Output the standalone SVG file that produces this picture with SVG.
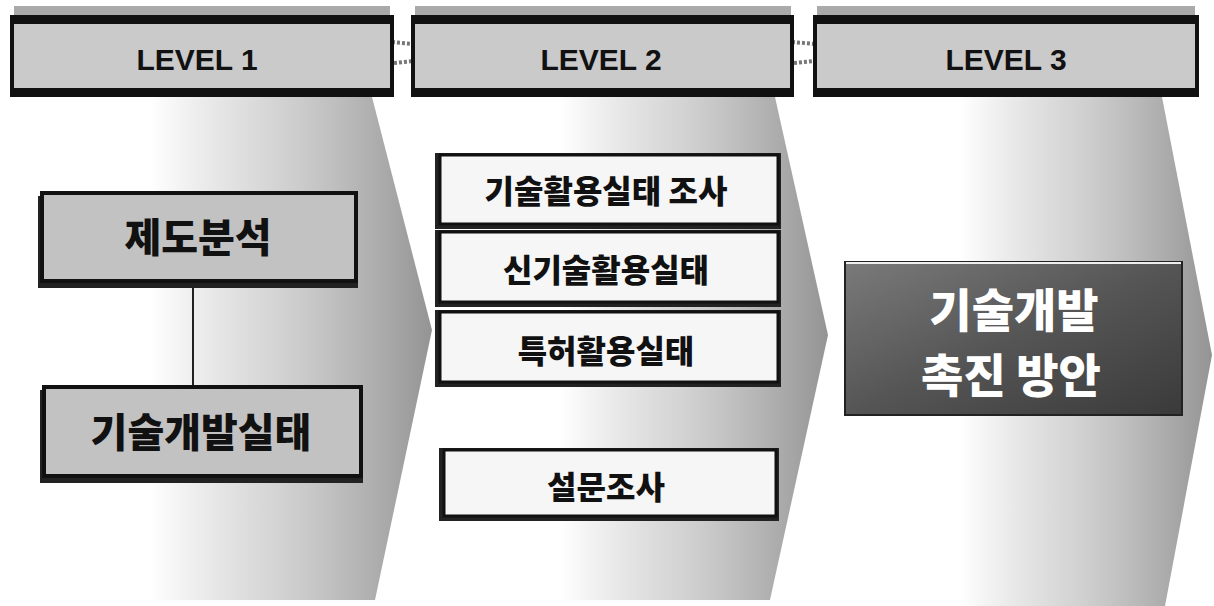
<svg xmlns="http://www.w3.org/2000/svg" width="1214" height="606" viewBox="0 0 1214 606">
<style>
.hdr{fill:#cacaca;stroke:#111;stroke-width:4}
.hbar{fill:#111}
.lv{font-family:"Liberation Sans",Arial,sans-serif;font-weight:bold;font-size:30px;fill:#111;text-anchor:middle}
.ko{font-family:"Noto Sans CJK KR","Noto Sans",sans-serif;font-weight:900;fill:#111;text-anchor:middle}
.n1{fill:#c2c2c2;stroke:#111;stroke-width:4}
.n2{fill:#f6f6f6;stroke:#111;stroke-width:3}
.sh{fill:#222}
.link{stroke:#777;stroke-width:4;stroke-dasharray:3 2}
</style>
<defs>
<linearGradient id="fade" x1="0" y1="0" x2="1" y2="0">
<stop offset="0" stop-color="#9a9a9a" stop-opacity="0"/>
<stop offset="0.45" stop-color="#a8a8a8" stop-opacity="0.5"/>
<stop offset="1" stop-color="#8e8e8e" stop-opacity="0.95"/>
</linearGradient>
<linearGradient id="dark" x1="0" y1="0" x2="1" y2="1">
<stop offset="0" stop-color="#7a7a7a"/>
<stop offset="0.5" stop-color="#555"/>
<stop offset="1" stop-color="#3a3a3a"/>
</linearGradient>
</defs>
<rect width="1214" height="606" fill="#fff"/>
<g id="backgrounds">
<path d="M150 97 L372 97 L432 330 L375 600 L150 600 Z" fill="url(#fade)"/>
<path d="M560 97 L775 97 L828 335 L770 600 L560 600 Z" fill="url(#fade)"/>
<path d="M960 97 L1162 97 L1212 355 L1165 606 L960 606 Z" fill="url(#fade)"/>
</g>
<g id="connectors">
<line class="link" x1="392" y1="42" x2="413" y2="44"/>
<line class="link" x1="394" y1="63" x2="413" y2="61"/>
<line class="link" x1="792" y1="42" x2="815" y2="44"/>
<line class="link" x1="794" y1="63" x2="815" y2="61"/>
<line x1="193" y1="285" x2="193" y2="387" stroke="#222" stroke-width="2"/>
</g>
<g id="level1">
<rect x="14" y="6" width="376" height="10" fill="#aaa"/>
<rect class="hdr" x="12" y="17" width="380" height="78"/>
<rect class="hbar" x="12" y="15" width="380" height="9"/>
<rect class="hbar" x="12" y="88" width="380" height="9"/>
<text class="lv" x="197" y="70">LEVEL 1</text>
</g>
<g id="level2">
<rect x="415" y="6" width="376" height="10" fill="#aaa"/>
<rect class="hdr" x="413" y="17" width="379" height="78"/>
<rect class="hbar" x="413" y="15" width="379" height="9"/>
<rect class="hbar" x="413" y="88" width="379" height="9"/>
<text class="lv" x="601" y="70">LEVEL 2</text>
</g>
<g id="level3">
<rect x="817" y="6" width="378" height="10" fill="#aaa"/>
<rect class="hdr" x="815" y="17" width="382" height="78"/>
<rect class="hbar" x="815" y="15" width="382" height="9"/>
<rect class="hbar" x="815" y="88" width="382" height="9"/>
<text class="lv" x="1006" y="70">LEVEL 3</text>
</g>
<g id="node-jedo">
<rect class="sh" x="38" y="196" width="320" height="92"/>
<rect class="n1" x="42" y="193" width="314" height="88"/>
<text class="ko" x="198" y="252" font-size="40">제도분석</text>
</g>
<g id="node-gisulgaebal">
<rect class="sh" x="40" y="390" width="323" height="93"/>
<rect class="n1" x="44" y="387" width="317" height="89"/>
<text class="ko" x="201" y="447" font-size="40">기술개발실태</text>
</g>
<g id="node-hwalyong">
<rect class="sh" x="435" y="153" width="346" height="76"/>
<rect class="n2" x="440" y="155" width="338" height="69"/>
<text class="ko" x="606" y="203" font-size="32">기술활용실태 조사</text>
</g>
<g id="node-singisul">
<rect class="sh" x="435" y="230" width="346" height="77"/>
<rect class="n2" x="440" y="232" width="338" height="70"/>
<text class="ko" x="606" y="282" font-size="32">신기술활용실태</text>
</g>
<g id="node-teukheo">
<rect class="sh" x="435" y="310" width="346" height="77"/>
<rect class="n2" x="440" y="312" width="338" height="70"/>
<text class="ko" x="606" y="363" font-size="32">특허활용실태</text>
</g>
<g id="node-seolmun">
<rect class="sh" x="439" y="448" width="340" height="73"/>
<rect class="n2" x="444" y="450" width="332" height="66"/>
<text class="ko" x="606" y="499" font-size="32">설문조사</text>
</g>
<g id="node-chokjin">
<rect x="845" y="262" width="337" height="153" fill="url(#dark)" stroke="#222" stroke-width="2"/>
<line x1="846" y1="263" x2="1181" y2="263" stroke="#eee" stroke-width="2"/>
<text class="ko" x="1014" y="327" font-size="46" style="fill:#fff">기술개발</text>
<text class="ko" x="1011" y="392" font-size="46" style="fill:#fff">촉진  방안</text>
</g>
</svg>
